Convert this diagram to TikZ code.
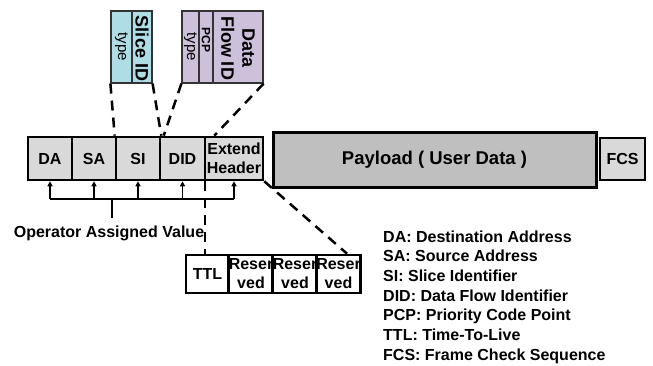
\documentclass[tikz,border=0pt]{standalone}
\usepackage{fontspec}
\setmainfont{Liberation Sans}
\usetikzlibrary{arrows.meta}
\definecolor{hdr}{HTML}{D9D9D9}
\definecolor{pay}{HTML}{BFBFBF}
\definecolor{slc}{HTML}{AEDDE6}
\definecolor{dfl}{HTML}{CCC0DA}
\begin{document}
\begin{tikzpicture}[x=1pt,y=-1pt,
  hbox/.style={draw=black, line width=2.6pt, fill=hdr, inner sep=0pt, align=center,
    font=\bfseries\fontsize{16}{19}\selectfont, minimum height=43pt},
  tbox/.style={draw=black!80, line width=1.2pt, inner sep=0pt, minimum height=72pt},
  ttxt/.style={rotate=-90, inner sep=0pt, align=center},
  bbox/.style={draw=black, line width=2.6pt, fill=white, inner sep=0pt, align=center,
    font=\bfseries\fontsize{16}{19}\selectfont, minimum height=38pt},
  dashline/.style={line width=2.5pt, dash pattern=on 10pt off 7pt},
  busline/.style={line width=1.4pt},
  tip/.style={-{Triangle[length=5pt,width=5pt]}},
  legend/.style={font=\bfseries\fontsize{16}{19}\selectfont, inner sep=0pt, anchor=base west}
]
\useasboundingbox (0,0) rectangle (653,365);
% header
\node[hbox, minimum width=44pt] (da) at (50,158.5) {DA};
\node[hbox, minimum width=44pt] (sa) at (94,158.5) {SA};
\node[hbox, minimum width=44pt] (si) at (138,158.5) {SI};
\node[hbox, minimum width=45pt] (did) at (182.5,158.5) {DID};
\node[hbox, minimum width=58pt] (ext) at (234,158.5) {Extend\\Header};
\node[draw=black, line width=3pt, fill=pay, inner sep=0pt, minimum width=323pt, minimum height=55pt,
  font=\bfseries\fontsize{18.5}{20}\selectfont] (pay) at (434.5,159.5) {Payload ( User Data )};
\node[hbox, minimum width=45pt, minimum height=42pt] (fcs) at (622.5,159) {FCS};
% top boxes
\node[tbox, fill=slc, minimum width=21pt] (slt) at (121.5,47) {};
\node[tbox, fill=slc, minimum width=20pt] (sid) at (142,47) {};
\node[ttxt, font=\fontsize{15}{16}\selectfont] (sltx) at (121.5,47) {type};
\node[ttxt, font=\bfseries\fontsize{18}{20}\selectfont] (sidx) at (142,48.5) {Slice ID};
\node[tbox, fill=dfl, minimum width=17pt] (dt) at (190.5,47) {};
\node[tbox, fill=dfl, minimum width=14pt] (pcp) at (206,47) {};
\node[tbox, fill=dfl, minimum width=50pt] (dfid) at (238,47) {};
\node[ttxt, font=\fontsize{15}{16}\selectfont] (dtx) at (190.5,47) {type};
\node[ttxt, font=\bfseries\fontsize{12}{13}\selectfont] (pcpx) at (206,40) {PCP};
\node[ttxt, font=\bfseries\fontsize{18}{21}\selectfont] (dfidx) at (238,48) {Data\\Flow ID};
% bottom boxes
\node[bbox, minimum width=43pt] (ttl) at (207.5,274) {TTL};
\node[bbox, minimum width=44pt] (r1) at (251,274) {Reser\\ved};
\node[bbox, minimum width=44pt] (r2) at (295,274) {Reser\\ved};
\node[bbox, minimum width=43pt] (r3) at (338.5,274) {Reser\\ved};
% dashed connectors
\draw[dashline] (slt.south west) -- (si.north west);
\draw[dashline] (sid.south east) -- (si.north east);
\draw[dashline] (dt.south west) -- ([xshift=5pt]did.north west);
\draw[dashline] (dfid.south east) -- ([xshift=8pt]did.north east);
\draw[dashline] ([xshift=1.5pt]ext.south west) -- ([xshift=1.5pt]ext.south west |- ttl.north);
\draw[dashline] (ext.south east) -- ([xshift=-15pt]r3.north east);
% operator bus
\coordinate (bus) at (0,199);
\coordinate (stemtop) at (112,199);
\coordinate (stemend) at (112,218);
\draw[busline] (da.south |- bus) -- (ext.south |- bus);
\foreach \n in {da,sa,si,did,ext}{
  \draw[busline, tip] (\n.south |- bus) -- (\n.south);
}
\draw[busline] (stemtop) -- (stemend);
\node[font=\bfseries\fontsize{16}{19}\selectfont, inner sep=0pt, anchor=base] (op) at (109,237) {Operator Assigned Value};
% legend
\foreach \t [count=\i] in {DA: Destination Address, SA: Source Address, SI: Slice Identifier,
  DID: Data Flow Identifier, PCP: Priority Code Point, TTL: Time-To-Live, FCS: Frame Check Sequence}{
  \node[legend] (leg\i) at (383,{242+19.7*(\i-1)}) {\t};
}
\end{tikzpicture}
\end{document}
